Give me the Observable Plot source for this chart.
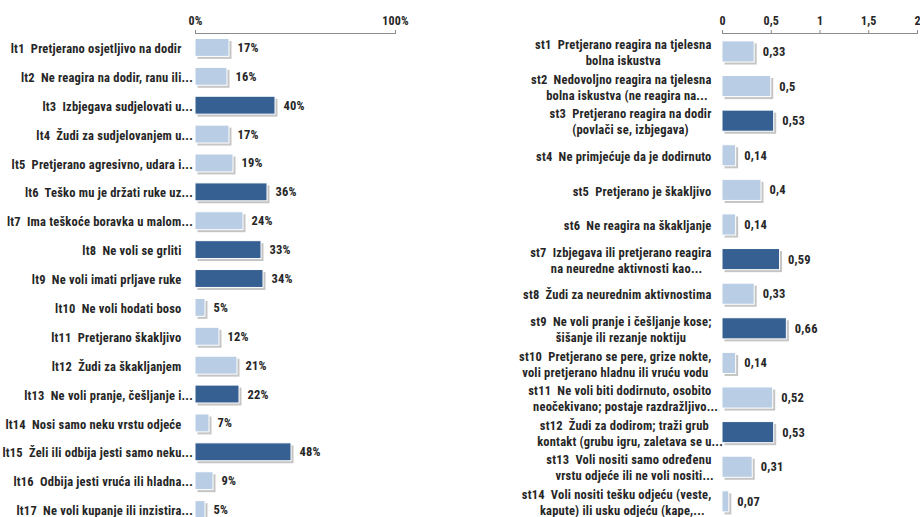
<!DOCTYPE html>
<html><head><meta charset="utf-8">
<script src="https://cdn.jsdelivr.net/npm/d3@7"></script>
<script src="https://cdn.jsdelivr.net/npm/@observablehq/plot@0.6"></script>
<style>
html,body{margin:0;padding:0;background:#fff;}
#wrap{display:flex;width:920px;height:517px;overflow:hidden;}
svg text{white-space:pre;letter-spacing:0.2px;}
</style></head><body><div id="wrap"></div>
<script>
// ---- Left panel data (share of children) ----
const leftCodes = ["lt1","lt2","lt3","lt4","lt5","lt6","lt7","lt8","lt9","lt10","lt11","lt12","lt13","lt14","lt15","lt16","lt17"];
const leftLabels = [
  "Pretjerano osjetljivo na dodir",
  "Ne reagira na dodir, ranu ili...",
  "Izbjegava sudjelovati u...",
  "Žudi za sudjelovanjem u...",
  "Pretjerano agresivno, udara i...",
  "Teško mu je držati ruke uz...",
  "Ima teškoće boravka u malom...",
  "Ne voli se grliti",
  "Ne voli imati prljave ruke",
  "Ne voli hodati boso",
  "Pretjerano škakljivo",
  "Žudi za škakljanjem",
  "Ne voli pranje, češljanje i...",
  "Nosi samo neku vrstu odjeće",
  "Želi ili odbija jesti samo neku...",
  "Odbija jesti vruća ili hladna...",
  "Ne voli kupanje ili inzistira..."
];
const leftValues = [0.17,0.16,0.40,0.17,0.19,0.36,0.24,0.33,0.34,0.05,0.12,0.21,0.22,0.07,0.48,0.09,0.05];
const leftGroups = ["light","light","dark","light","light","dark","light","dark","dark","light","light","light","dark","light","dark","light","light"];
const leftTicks = [0, 1];

// ---- Right panel data (mean score) ----
const rightCodes = ["st1","st2","st3","st4","st5","st6","st7","st8","st9","st10","st11","st12","st13","st14"];
const rightLabels = [
  "Pretjerano reagira na tjelesna\nbolna iskustva",
  "Nedovoljno reagira na tjelesna\nbolna iskustva (ne reagira na...",
  "Pretjerano reagira na dodir\n(povlači se, izbjegava)",
  "Ne primjećuje da je dodirnuto",
  "Pretjerano je škakljivo",
  "Ne reagira na škakljanje",
  "Izbjegava ili pretjerano reagira\nna neuredne aktivnosti kao...",
  "Žudi za neurednim aktivnostima",
  "Ne voli pranje i češljanje kose;\nšišanje ili rezanje noktiju",
  "Pretjerano se pere, grize nokte,\nvoli pretjerano hladnu ili vruću vodu",
  "Ne voli biti dodirnuto, osobito\nneočekivano; postaje razdražljivo...",
  "Žudi za dodirom; traži grub\nkontakt (grubu igru, zaletava se u...",
  "Voli nositi samo određenu\nvrstu odjeće ili ne voli nositi...",
  "Voli nositi tešku odjeću (veste,\nkapute) ili usku odjeću (kape,..."
];
const rightValues = [0.33,0.5,0.53,0.14,0.4,0.14,0.59,0.33,0.66,0.14,0.52,0.53,0.31,0.07];
const rightGroups = ["light","light","dark","light","light","light","dark","light","dark","light","light","dark","light","light"];
const rightTicks = [0, 0.5, 1, 1.5, 2];

const FONT = '"Roboto Condensed", "Open Sans Condensed", "Liberation Sans", Arial, sans-serif';
const DARK = "#376092", LIGHT = "#B9CDE5";
const ELL = "...";

const commaFmt = d => String(d).replace(".", ",");
const pctFmt = d => Math.round(d * 100) + "%";

function build(codes, labels, values, groups) {
  return codes.map((c, i) => ({code: c, label: c + "  " + labels[i], value: values[i], group: groups[i]}));
}

function panel({rows, codes, width, marginLeft, marginRight, xDomain, ticks, tickFmt, valueFmt, yRange, padding, labelDx}) {
  return Plot.plot({
    width, height: 517,
    marginLeft, marginRight, marginTop: 33, marginBottom: 0,
    style: {fontFamily: FONT, fontSize: "12.5px", fontWeight: "bold", color: "#262626", background: "transparent", overflow: "visible"},
    x: {domain: xDomain, axis: null},
    y: {domain: codes, range: yRange, padding, round: false, axis: null},
    color: {domain: ["light", "dark"], range: [LIGHT, DARK]},
    marks: [
      Plot.frame({anchor: "top", stroke: "#8c8c8c"}),
      Plot.axisX({anchor: "top", ticks, tickFormat: tickFmt, tickSize: 4, tickPadding: 5, stroke: "#8c8c8c", fontSize: 12, fontWeight: "bold", label: null}),
      Plot.barX(rows, {x: "value", y: "code", fill: "#6e6e6e", fillOpacity: 0.4, dx: 2.5, dy: 2.5}),
      Plot.barX(rows, {x: "value", y: "code", fill: "group", stroke: "white", strokeWidth: 1}),
      Plot.text(rows, {x: "value", y: "code", text: d => valueFmt(d.value), dx: 8, textAnchor: "start", fill: "#262626"}),
      Plot.text(rows, {y: "code", text: "label", frameAnchor: "left", textAnchor: "end", dx: labelDx, lineHeight: 1.28, fill: "#262626", className: "catlabel"})
    ]
  });
}

// Excel-style label block: right-aligned block, lines centred inside it, trailing "..." hangs outside.
function alignLabels(svg) {
  svg.querySelectorAll(".catlabel text").forEach(t => {
    const spans = [...t.querySelectorAll("tspan")];
    const lines = spans.length ? spans : [t];
    const info = lines.map(el => {
      const s = el.textContent;
      const w = el.getComputedTextLength();
      const hang = s.endsWith(ELL) ? el.getSubStringLength(s.length - ELL.length, ELL.length) : 0;
      return {el, core: w - hang};
    });
    const block = Math.max(...info.map(d => d.core));
    t.setAttribute("text-anchor", "start");
    info.forEach(d => d.el.setAttribute("x", -(block + d.core) / 2));
  });
}

const wrap = document.getElementById("wrap");
const left = panel({
  rows: build(leftCodes, leftLabels, leftValues, leftGroups), codes: leftCodes,
  width: 460, marginLeft: 195, marginRight: 65,
  xDomain: [0, 1], ticks: leftTicks, tickFmt: pctFmt, valueFmt: pctFmt,
  yRange: [27.5, 529.5], padding: 0.38, labelDx: -14
});
const right = panel({
  rows: build(rightCodes, rightLabels, rightValues, rightGroups), codes: rightCodes,
  width: 460, marginLeft: 262, marginRight: 3,
  xDomain: [0, 2], ticks: rightTicks, tickFmt: commaFmt, valueFmt: commaFmt,
  yRange: [27.4, 525.4], padding: 0.39, labelDx: -11
});
wrap.append(left, right);
alignLabels(left);
alignLabels(right);
</script></body></html>
